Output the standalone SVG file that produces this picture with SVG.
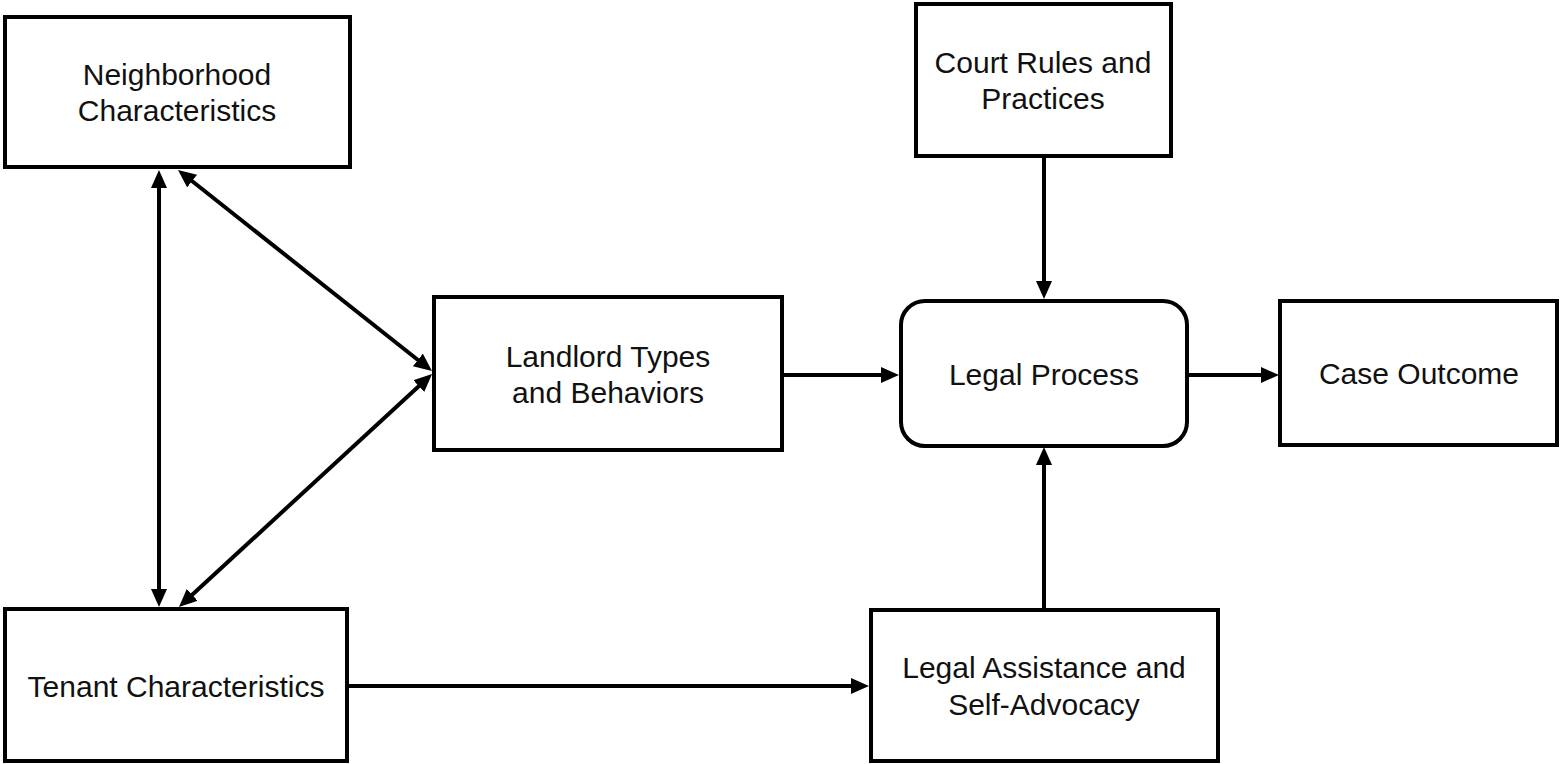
<svg xmlns="http://www.w3.org/2000/svg" width="1560" height="764" viewBox="0 0 1560 764">
<style>
.box{fill:#fff;stroke:#000;stroke-width:4}
.lbl{font-family:"Liberation Sans",Arial,sans-serif;font-size:30px;fill:#111;text-anchor:middle}
.con{stroke:#000;stroke-width:4;fill:none}
</style>
<defs>
<marker id="ah" markerUnits="userSpaceOnUse" markerWidth="20" markerHeight="18" refX="11" refY="8" orient="auto-start-reverse">
<path d="M0,0 L18,8 L0,16 z" fill="#000"/>
</marker>
</defs>
<rect width="1560" height="764" fill="#fff"/>
<g id="connectors">
<line class="con" x1="159" y1="177" x2="159" y2="600" marker-start="url(#ah)" marker-end="url(#ah)"/>
<line class="con" x1="183.5" y1="174.3" x2="426.5" y2="366.7" marker-start="url(#ah)" marker-end="url(#ah)"/>
<line class="con" x1="426.9" y1="378.7" x2="184.1" y2="602.3" marker-start="url(#ah)" marker-end="url(#ah)"/>
<line class="con" x1="784" y1="375" x2="892" y2="375" marker-end="url(#ah)"/>
<line class="con" x1="1189" y1="375" x2="1272" y2="375" marker-end="url(#ah)"/>
<line class="con" x1="1044" y1="157" x2="1044" y2="292" marker-end="url(#ah)"/>
<line class="con" x1="349" y1="686" x2="862" y2="686" marker-end="url(#ah)"/>
<line class="con" x1="1044" y1="609" x2="1044" y2="454" marker-end="url(#ah)"/>
</g>
<g id="neighborhood">
<rect class="box" x="5" y="17" width="345" height="150"/>
<text class="lbl" x="177" y="85">Neighborhood</text>
<text class="lbl" x="177" y="121">Characteristics</text>
</g>
<g id="court">
<rect class="box" x="916" y="4" width="255" height="152"/>
<text class="lbl" x="1043" y="73">Court Rules and</text>
<text class="lbl" x="1043" y="109">Practices</text>
</g>
<g id="landlord">
<rect class="box" x="434" y="297" width="348" height="153"/>
<text class="lbl" x="608" y="367">Landlord Types</text>
<text class="lbl" x="608" y="403">and Behaviors</text>
</g>
<g id="legal-process">
<rect class="box" x="901" y="301" width="286" height="145" rx="24"/>
<text class="lbl" x="1044" y="385">Legal Process</text>
</g>
<g id="case-outcome">
<rect class="box" x="1280" y="301" width="277" height="144"/>
<text class="lbl" x="1419" y="384">Case Outcome</text>
</g>
<g id="tenant">
<rect class="box" x="5" y="609" width="342" height="152"/>
<text class="lbl" x="176" y="697">Tenant Characteristics</text>
</g>
<g id="legal-assistance">
<rect class="box" x="871" y="610" width="347" height="151"/>
<text class="lbl" x="1044" y="678">Legal Assistance and</text>
<text class="lbl" x="1044" y="715">Self-Advocacy</text>
</g>
</svg>
